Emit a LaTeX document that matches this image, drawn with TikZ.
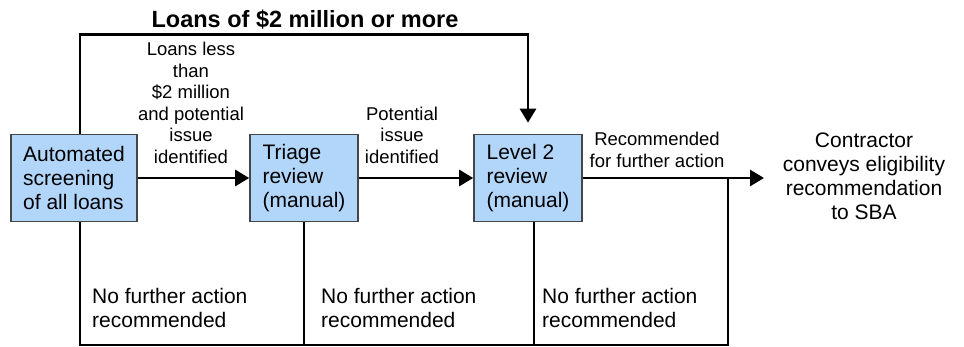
\documentclass[tikz,border=0pt]{standalone}
\usepackage{fontspec}
\setmainfont{Liberation Sans}
\usetikzlibrary{arrows.meta}
\definecolor{boxblue}{RGB}{178,214,250}
\definecolor{boxedge}{RGB}{70,70,70}
\begin{document}
\begin{tikzpicture}[
  x=1pt, y=-1pt,
  box/.style={draw=boxedge, line width=1.6pt, fill=boxblue, align=left,
    minimum height=87pt, inner sep=0pt, font=\fontsize{21}{24}\selectfont},
  flow/.style={line width=2.8pt},
  arr/.style={flow, -{Triangle[length=14pt, width=16pt]}},
  lbl/.style={align=center, inner sep=0pt, font=\fontsize{18.5}{21.5}\selectfont},
  note/.style={align=left, inner sep=0pt, anchor=west, font=\fontsize{21}{24}\selectfont}
]
\useasboundingbox (0,0) rectangle (964,347);

% ── Review stages ─────────────────────────────────────────────────────────────

\node[box, minimum width=126pt] (auto)   at (74,178)  {Automated\\screening\\of all loans};
\node[box, minimum width=108pt] (triage) at (304,178) {Triage\\review\\(manual)};
\node[box, minimum width=108pt] (level2) at (528,178) {Level 2\\review\\(manual)};

\node[align=center, inner sep=0pt, font=\fontsize{21}{24}\selectfont] (sba) at (864,176)
  {Contractor\\conveys eligibility\\recommendation\\to SBA};

\coordinate (out)   at (764,178);
\coordinate (split) at (728,178);
\coordinate (base)  at (0,345);

% ── Connector labels ──────────────────────────────────────────────────────────

\node[font=\bfseries\fontsize{23.5}{28}\selectfont, inner sep=0pt] (big) at (305,20)
  {Loans of \$2 million or more};
\node[lbl] (small)  at (191,103) {Loans less\\than\\\$2 million\\and potential\\issue\\identified};
\node[lbl] (issue)  at (402,135) {Potential\\issue\\identified};
\node[lbl] (action) at (657,150) {Recommended\\for further action};

\node[note] (none1) at (92,308)  {No further action\\recommended};
\node[note] (none2) at (321,308) {No further action\\recommended};
\node[note] (none3) at (542,308) {No further action\\recommended};

% ── Flow ──────────────────────────────────────────────────────────────────────

\draw[arr] (auto)   -- (triage);
\draw[arr] (triage) -- (level2);
\draw[arr] (level2) -- (out);

% large loans skip triage
\draw[arr, shorten >=11pt] ([xshift=6pt]auto.north) -- ++(0,-99.5) -| (level2.north);

% no further action
\draw[flow] ([xshift=6pt]auto.south) |- (split |- base) -- (split);
\draw[flow] (triage.south) -- (triage.south |- base);
\draw[flow] ([xshift=6pt]level2.south) -- ([xshift=6pt]level2.south |- base);

\end{tikzpicture}
\end{document}
